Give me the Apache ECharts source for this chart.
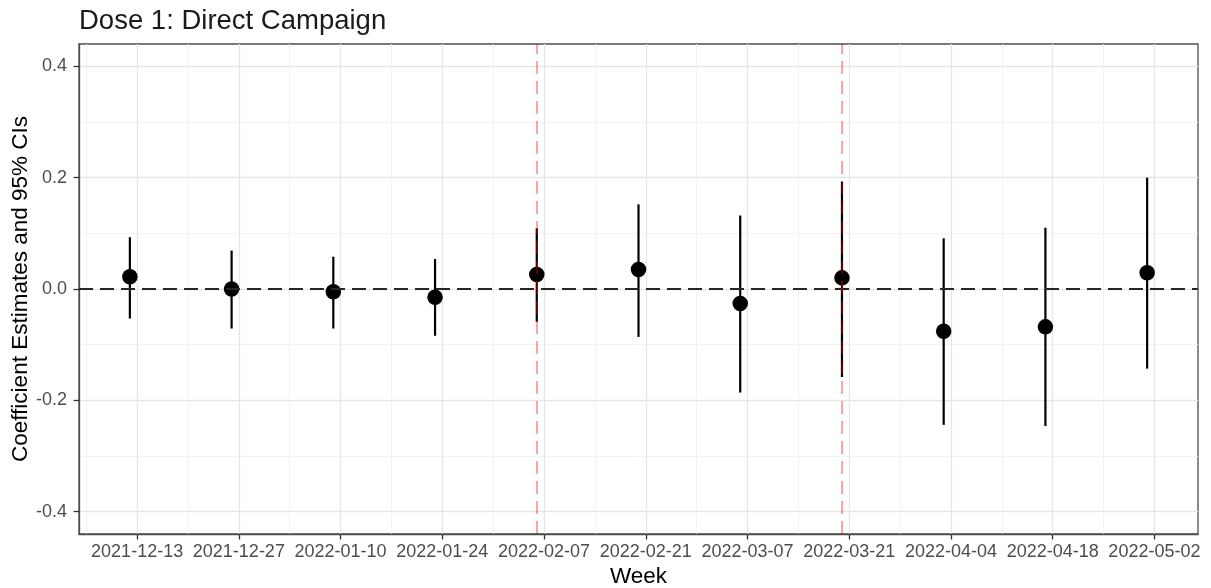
<!DOCTYPE html>
<html><head><meta charset="utf-8">
<script src="https://cdn.jsdelivr.net/npm/echarts@6/dist/echarts.min.js"></script>
<style>html,body{margin:0;padding:0;background:#fff}#c{width:1211px;height:588px}</style>
</head><body><div id="c"></div>
<script>
// ---- data ----
const weeks = ['2021-12-12','2021-12-26','2022-01-09','2022-01-23','2022-02-06','2022-02-20','2022-03-06','2022-03-20','2022-04-03','2022-04-17','2022-05-01'];
const estimates = [0.022, 0.000, -0.005, -0.015, 0.026, 0.035, -0.026, 0.020, -0.076, -0.068, 0.029];
const lower = [-0.053, -0.071, -0.071, -0.084, -0.059, -0.086, -0.186, -0.158, -0.244, -0.246, -0.143];
const upper = [0.093, 0.069, 0.058, 0.054, 0.109, 0.152, 0.132, 0.193, 0.091, 0.110, 0.200];
const tickDates = ['2021-12-13','2021-12-27','2022-01-10','2022-01-24','2022-02-07','2022-02-21','2022-03-07','2022-03-21','2022-04-04','2022-04-18','2022-05-02'];
const campaignDates = ['2022-02-06','2022-03-20'];
const yTicks = [-0.4, -0.2, 0.0, 0.2, 0.4];

// ---- helpers ----
const ORIGIN = Date.UTC(2021, 11, 13);
function dayNum(s) { const p = s.split('-').map(Number); return (Date.UTC(p[0], p[1]-1, p[2]) - ORIGIN) / 86400000; }
function dayLabel(v) { return new Date(ORIGIN + Math.round(v) * 86400000).toISOString().slice(0, 10); }

const xs = weeks.map(dayNum);
const xMin = xs[0] - 7, xMax = xs[xs.length-1] + 7;

const chart = echarts.init(document.getElementById('c'), null, {renderer: 'canvas'});
const font = '"Liberation Sans", Arial, Helvetica, sans-serif';
const borderCol = '#4d4d4d';
chart.setOption({
  animation: false,
  backgroundColor: '#ffffff',
  title: {
    text: 'Dose 1: Direct Campaign', left: 74, top: 2,
    textStyle: {fontFamily: font, fontSize: 27.5, fontWeight: 'normal', color: '#1a1a1a'}
  },
  grid: {left: 79, right: 13, top: 44, bottom: 54, show: true, borderColor: borderCol, borderWidth: 1.3, backgroundColor: '#fff', containLabel: false, outerBoundsMode: 'none'},
  xAxis: {
    type: 'value', min: xMin, max: xMax, minInterval: 14, maxInterval: 14,
    name: 'Week', nameLocation: 'middle', nameGap: 31, nameMoveOverlap: false,
    nameTextStyle: {fontFamily: font, fontSize: 22.5, color: '#000'},
    axisLine: {show: true, onZero: false, lineStyle: {color: borderCol, width: 1.3}},
    axisTick: {show: true, inside: false, length: 5.5, lineStyle: {color: '#333', width: 1.3}, customValues: tickDates.map(dayNum)},
    axisLabel: {show: true, margin: 9, fontFamily: font, fontSize: 18, color: '#4d4d4d', formatter: dayLabel, customValues: tickDates.map(dayNum)},
    splitLine: {show: true, lineStyle: {color: '#e6e6e6', width: 1.3}},
    minorTick: {show: false, splitNumber: 2},
    minorSplitLine: {show: true, lineStyle: {color: '#f0f0f0', width: 0.9}}
  },
  yAxis: {
    type: 'value', min: -0.44, max: 0.44, minInterval: 0.2, maxInterval: 0.2,
    name: 'Coefficient Estimates and 95% CIs', nameLocation: 'middle', nameGap: 47, nameMoveOverlap: false,
    nameTextStyle: {fontFamily: font, fontSize: 22.5, color: '#000'},
    axisLine: {show: true, onZero: false, lineStyle: {color: borderCol, width: 1.3}},
    axisTick: {show: true, inside: false, length: 5.5, lineStyle: {color: '#333', width: 1.3}, customValues: yTicks},
    axisLabel: {show: true, margin: 12, fontFamily: font, fontSize: 18, color: '#4d4d4d', formatter: v => v.toFixed(1), customValues: yTicks},
    splitLine: {show: true, lineStyle: {color: '#e6e6e6', width: 1.3}},
    minorTick: {show: false, splitNumber: 2},
    minorSplitLine: {show: true, lineStyle: {color: '#f0f0f0', width: 0.9}}
  },
  series: [
    {
      type: 'custom', z: 2, clip: true,
      data: xs.map((x, i) => [x, lower[i], upper[i]]),
      encode: {x: 0, y: [1, 2]},
      renderItem: function (params, api) {
        const x = api.value(0);
        const a = api.coord([x, api.value(1)]);
        const b = api.coord([x, api.value(2)]);
        return {type: 'line', shape: {x1: a[0], y1: a[1], x2: b[0], y2: b[1]}, style: {stroke: '#000', lineWidth: 2.2}};
      },
      markLine: {
        silent: true, symbol: ['none', 'none'], label: {show: false}, animation: false,
        lineStyle: {color: '#262626', width: 1.8, type: [14, 7], opacity: 1},
        data: [{yAxis: 0}]
      }
    },
    {
      type: 'scatter', z: 3, symbol: 'circle', symbolSize: 15.5,
      itemStyle: {color: '#000', opacity: 1},
      emphasis: {disabled: true},
      data: xs.map((x, i) => [x, estimates[i]])
    },
    {
      type: 'scatter', z: 6, symbolSize: 0, data: [],
      markLine: {
        silent: true, symbol: ['none', 'none'], label: {show: false}, animation: false, z: 10,
        lineStyle: {color: 'rgba(255,0,0,0.42)', width: 1.7, type: [13, 7], opacity: 1},
        data: campaignDates.map(d => ({xAxis: dayNum(d)}))
      }
    }
  ]
});
</script></body></html>
